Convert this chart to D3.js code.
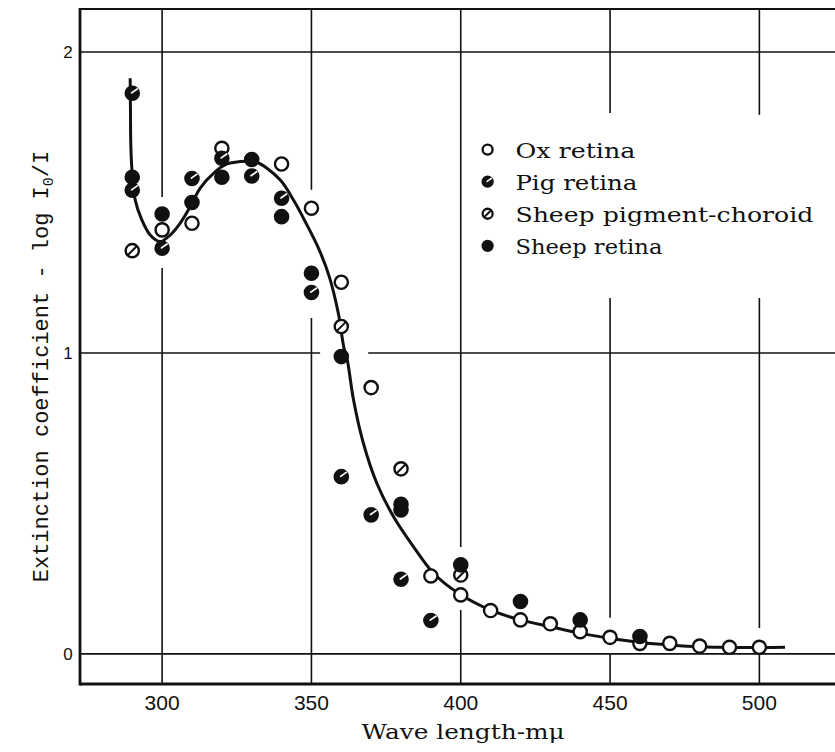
<!DOCTYPE html>
<html>
<head>
<meta charset="utf-8">
<script src="https://cdn.jsdelivr.net/npm/d3@7"></script>
<style>
  body { margin: 0; background: #fff; }
  svg { display: block; }
  .grid-line { stroke: #111; stroke-width: 1.6; fill: none; }
  .frame { stroke: #111; fill: none; }
  .chart-line { fill: none; stroke: #111; stroke-width: 3; stroke-linejoin: round; }
  .tick-label { font-family: "Liberation Sans", Arial, sans-serif; font-size: 21px; fill: #111; }
  .y-label { font-family: "Liberation Sans", Arial, sans-serif; font-size: 17px; fill: #111; }
  .axis-title-y { font-family: "Liberation Mono", "DejaVu Sans Mono", monospace; font-size: 22px; fill: #111; }
  .serif-text { font-family: "DejaVu Serif", "Liberation Serif", serif; font-size: 21px; fill: #111; }
</style>
</head>
<body>
<svg id="chart"></svg>
<script>
// values: wave length (mμ) and extinction coefficient
const oxWave  = [300, 310, 320, 340, 350, 360, 370, 390, 400, 410, 420, 430, 440, 450, 460, 470, 480, 490, 500];
const oxValue = [1.409, 1.431, 1.680, 1.628, 1.481, 1.235, 0.885, 0.259, 0.196, 0.144, 0.113, 0.100, 0.074, 0.055, 0.035, 0.035, 0.026, 0.022, 0.022];

const pigWave  = [290, 290, 300, 310, 320, 330, 340, 350, 360, 370, 380, 380, 390];
const pigValue = [1.863, 1.541, 1.348, 1.580, 1.647, 1.588, 1.514, 1.201, 0.589, 0.462, 0.478, 0.248, 0.111];

const choroidWave  = [290, 360, 380, 400];
const choroidValue = [1.340, 1.088, 0.615, 0.262];

const sheepWave  = [290, 300, 310, 320, 330, 340, 350, 360, 380, 400, 420, 440, 460];
const sheepValue = [1.584, 1.462, 1.500, 1.584, 1.643, 1.453, 1.265, 0.988, 0.497, 0.296, 0.174, 0.113, 0.058];

// the smooth curve drawn through the points
const curveWave  = [289.3, 289.4, 289.5, 289.9, 291.0, 293.2, 296.0, 299.3, 302.7, 306.0, 309.4, 312.7, 317.2, 321.7, 326.1, 331.0, 335.1, 339.8, 344.0, 348.0, 352.5, 356.0, 359.0, 360.9, 362.0, 364.1, 367.4, 371.9, 377.5, 384.2, 390.9, 399.0, 409.8, 419.9, 429.9, 440.0, 450.0, 460.0, 470.0, 480.0, 490.0, 500.0, 508.6];
const curveValue = [1.913, 1.807, 1.697, 1.608, 1.508, 1.442, 1.392, 1.370, 1.392, 1.431, 1.486, 1.547, 1.597, 1.628, 1.636, 1.636, 1.614, 1.572, 1.508, 1.435, 1.345, 1.253, 1.132, 1.016, 0.977, 0.844, 0.700, 0.567, 0.456, 0.356, 0.268, 0.203, 0.146, 0.113, 0.091, 0.069, 0.052, 0.038, 0.030, 0.024, 0.022, 0.021, 0.022];

const xTicks = [300, 350, 400, 450, 500];
const yTicks = [0, 1, 2];
const legendLabels = ["Ox retina", "Pig retina", "Sheep pigment-choroid", "Sheep retina"];
const legendKinds  = ["ox", "pig", "choroid", "sheep"];

// places where the grid lines are broken in the original (data units)
const vBreaks = [[300, 1.282, 1.518], [350, 1.116, 1.542], [400, 0.146, 0.355],
                 [450, 1.183, 1.797], [450, 0.0, 0.12], [500, 1.183, 1.791], [500, 0.0, 0.086]];
const hBreaks = [[1, 352.9, 369]];

class extinctionChart {
    constructor(_config) {
        this.config = {
            parentElement: _config.parentElement,
            containerWidth: _config.containerWidth || 835,
            containerHeight: _config.containerHeight || 752,
            margin: {top: 9, right: -5, bottom: 68, left: 80},
            // widths of the legend labels in the original lettering
            legendWidths: [120, 122, 298, 147]
        };
        this.initVis();
    }

    initVis() {
        let vis = this;
        const m = vis.config.margin;

        vis.width = vis.config.containerWidth - m.left - m.right;
        vis.height = vis.config.containerHeight - m.top - m.bottom;

        vis.xDomain = [272.5, 527];
        vis.yDomain = [-0.1, 2.143];

        vis.xScale = d3.scaleLinear().domain(vis.xDomain).range([0, vis.width]);
        vis.yScale = d3.scaleLinear().domain(vis.yDomain).range([vis.height, 0]);

        vis.svg = d3.select(vis.config.parentElement)
            .attr('width', vis.config.containerWidth)
            .attr('height', vis.config.containerHeight);

        vis.chart = vis.svg.append('g')
            .attr('transform', `translate(${m.left},${m.top})`);

        vis.gridG = vis.chart.append('g');
        vis.frameG = vis.chart.append('g');
        vis.marks = vis.chart.append('g');
        vis.legendG = vis.chart.append('g');

        vis.renderVis();
    }

    // split [lo, hi] around the breaks for one grid line
    segments(lo, hi, breaks) {
        let segs = [];
        let start = lo;
        breaks.slice().sort((a, b) => a[0] - b[0]).forEach(b => {
            segs.push([start, b[0]]);
            start = b[1];
        });
        segs.push([start, hi]);
        return segs;
    }

    drawMarker(g, kind, r, sw) {
        const dark = '#111';
        if (kind === 'ox') {
            g.append('circle').attr('r', r).attr('fill', '#fff').attr('stroke', dark).attr('stroke-width', sw);
        } else if (kind === 'pig') {
            g.append('circle').attr('r', r).attr('fill', dark).attr('stroke', dark).attr('stroke-width', sw);
            g.append('line')
                .attr('x1', -r * 0.1).attr('y1', -r * 0.05)
                .attr('x2', r * 0.75).attr('y2', -r * 0.65)
                .attr('stroke', '#fff').attr('stroke-width', sw * 0.7).attr('stroke-linecap', 'round');
        } else if (kind === 'choroid') {
            g.append('circle').attr('r', r).attr('fill', '#fff').attr('stroke', dark).attr('stroke-width', sw);
            g.append('line')
                .attr('x1', -r * 0.7).attr('y1', r * 0.7)
                .attr('x2', r * 0.7).attr('y2', -r * 0.7)
                .attr('stroke', dark).attr('stroke-width', sw * 0.85);
        } else {
            g.append('circle').attr('r', r).attr('fill', dark).attr('stroke', dark).attr('stroke-width', sw);
        }
    }

    renderVis() {
        let vis = this;
        const x = vis.xScale, y = vis.yScale;

        // vertical grid lines
        xTicks.forEach(t => {
            const br = vBreaks.filter(b => b[0] === t).map(b => [b[1], b[2]]);
            vis.segments(vis.yDomain[0], vis.yDomain[1], br).forEach(s => {
                vis.gridG.append('line')
                    .attr('class', 'grid-line')
                    .attr('x1', x(t)).attr('x2', x(t))
                    .attr('y1', y(s[0])).attr('y2', y(s[1]));
            });
        });

        // horizontal grid lines
        yTicks.forEach(t => {
            const br = hBreaks.filter(b => b[0] === t).map(b => [b[1], b[2]]);
            vis.segments(vis.xDomain[0], vis.xDomain[1], br).forEach(s => {
                vis.gridG.append('line')
                    .attr('class', 'grid-line')
                    .attr('x1', x(s[0])).attr('x2', x(s[1]))
                    .attr('y1', y(t)).attr('y2', y(t));
            });
        });

        // frame (right side runs off the page)
        vis.frameG.append('line').attr('class', 'frame').attr('stroke-width', 2.2)
            .attr('x1', 0).attr('x2', vis.width).attr('y1', 0).attr('y2', 0);
        vis.frameG.append('line').attr('class', 'frame').attr('stroke-width', 2.8)
            .attr('x1', 0).attr('x2', 0).attr('y1', -1).attr('y2', vis.height + 1.5);
        vis.frameG.append('line').attr('class', 'frame').attr('stroke-width', 3.2)
            .attr('x1', 0).attr('x2', vis.width).attr('y1', vis.height).attr('y2', vis.height);

        // tick labels
        vis.chart.selectAll('.tick-label')
            .data(xTicks)
            .join('text')
            .attr('class', 'tick-label')
            .attr('x', d => x(d))
            .attr('y', vis.height + 26)
            .attr('text-anchor', 'middle')
            .text(d => d);

        vis.chart.selectAll('.y-label')
            .data(yTicks)
            .join('text')
            .attr('class', 'y-label')
            .attr('x', -12)
            .attr('y', d => y(d))
            .attr('dy', '0.36em')
            .attr('text-anchor', 'middle')
            .text(d => d);

        // axis titles
        vis.chart.append('text')
            .attr('class', 'serif-text')
            .attr('x', x(400.8))
            .attr('y', vis.height + 55)
            .attr('font-size', 22)
            .attr('text-anchor', 'middle')
            .attr('textLength', 203)
            .attr('lengthAdjust', 'spacingAndGlyphs')
            .text('Wave length-mμ');

        const yt = vis.chart.append('text')
            .attr('class', 'axis-title-y')
            .attr('transform', `translate(-32,${y(0.955)}) rotate(-90)`)
            .attr('text-anchor', 'middle');
        yt.append('tspan').text('Extinction coefficient - log I');
        yt.append('tspan').attr('font-size', 15).attr('dy', 5).text('0');
        yt.append('tspan').attr('dy', -5).text('/I');

        // fitted curve
        const line = d3.line()
            .x(i => x(curveWave[i]))
            .y(i => y(curveValue[i]))
            .curve(d3.curveCatmullRom.alpha(0.5));

        vis.marks.append('path')
            .datum(d3.range(curveWave.length))
            .attr('class', 'chart-line')
            .attr('d', line);

        // points, one series at a time
        const series = [
            {kind: 'choroid', w: choroidWave, v: choroidValue},
            {kind: 'ox', w: oxWave, v: oxValue},
            {kind: 'pig', w: pigWave, v: pigValue},
            {kind: 'sheep', w: sheepWave, v: sheepValue}
        ];
        series.forEach(s => {
            s.w.forEach((w, i) => {
                const g = vis.marks.append('g')
                    .attr('transform', `translate(${x(w)},${y(s.v[i])})`);
                vis.drawMarker(g, s.kind, 6.6, 2.4);
            });
        });

        // legend
        const legendX = x(409), textX = x(418.3);
        legendLabels.forEach((lab, i) => {
            const ly = y(1.676) + i * 32.1;
            const g = vis.legendG.append('g').attr('transform', `translate(${legendX},${ly})`);
            vis.drawMarker(g, legendKinds[i], 5, 2.3);
            vis.legendG.append('text')
                .attr('class', 'serif-text')
                .attr('x', textX)
                .attr('y', ly + 8.5)
                .attr('textLength', vis.config.legendWidths[i])
                .attr('lengthAdjust', 'spacingAndGlyphs')
                .text(lab);
        });
    }
}

let chart = new extinctionChart({parentElement: '#chart'});
</script>
</body>
</html>
